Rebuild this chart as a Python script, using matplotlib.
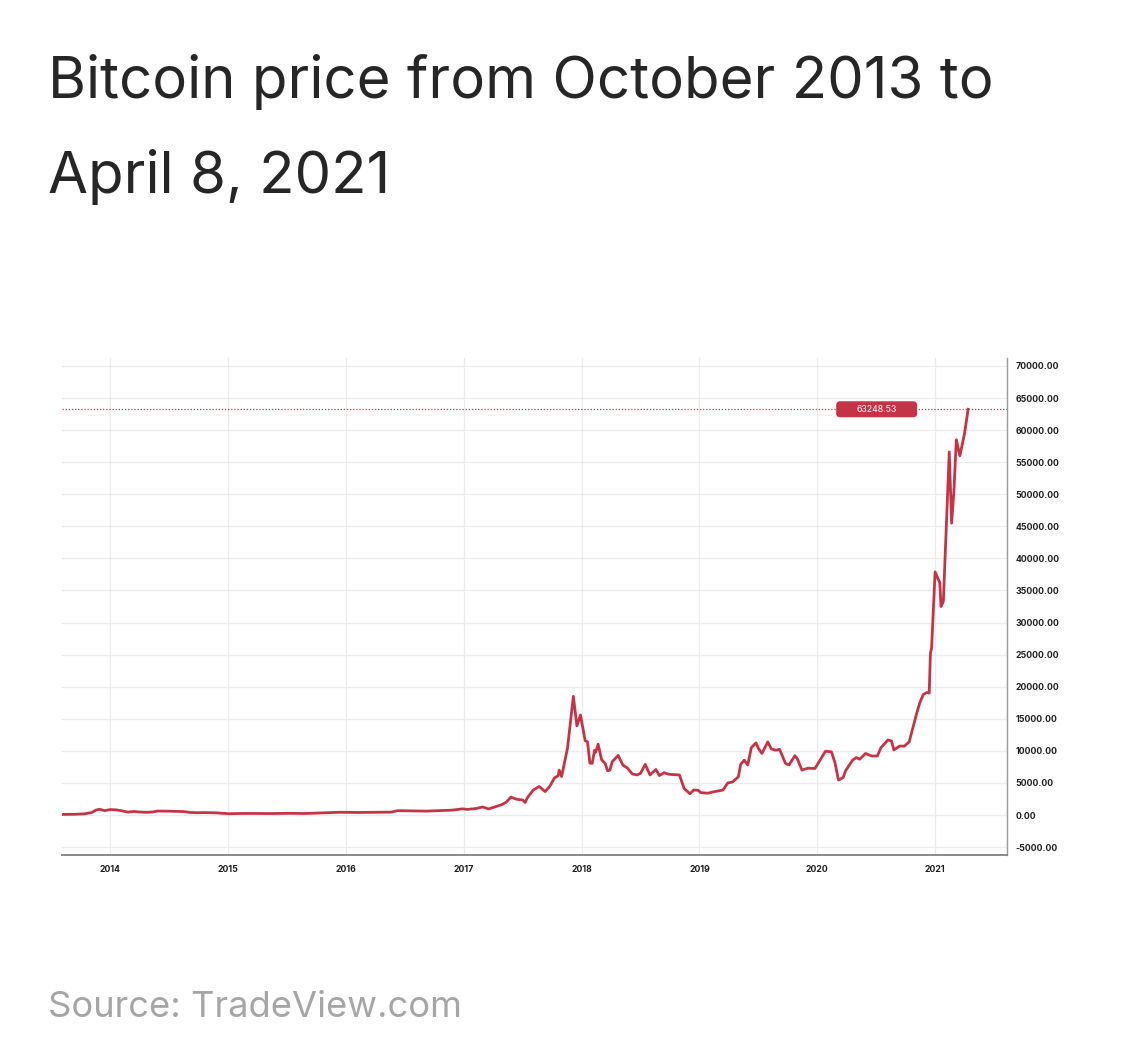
import matplotlib.pyplot as plt
from matplotlib.patches import FancyBboxPatch

# 周线数据 (按年份小数读图估计)
t = [2013.60, 2013.70, 2013.78, 2013.84, 2013.88, 2013.91, 2013.95, 2014.00, 2014.05, 2014.10,
     2014.15, 2014.20, 2014.25, 2014.31, 2014.36, 2014.40, 2014.50, 2014.62, 2014.68, 2014.74,
     2014.80, 2014.90, 2015.01, 2015.10, 2015.20, 2015.35, 2015.53, 2015.65, 2015.83, 2015.95,
     2016.10, 2016.25, 2016.38, 2016.44, 2016.55, 2016.68, 2016.80, 2016.90, 2016.99, 2017.03,
     2017.10, 2017.16, 2017.21, 2017.26, 2017.32, 2017.36, 2017.40, 2017.45, 2017.50, 2017.52,
     2017.54, 2017.59, 2017.64, 2017.69, 2017.73, 2017.77, 2017.80, 2017.81, 2017.83, 2017.88,
     2017.93, 2017.96, 2017.99, 2018.03, 2018.05, 2018.07, 2018.09, 2018.11, 2018.12, 2018.14,
     2018.17, 2018.20, 2018.22, 2018.24, 2018.26, 2018.31, 2018.35, 2018.39, 2018.43, 2018.47,
     2018.50, 2018.54, 2018.58, 2018.63, 2018.66, 2018.70, 2018.74, 2018.83, 2018.87, 2018.92,
     2018.95, 2018.99, 2019.01, 2019.07, 2019.11, 2019.20, 2019.24, 2019.28, 2019.33, 2019.35,
     2019.38, 2019.41, 2019.44, 2019.48, 2019.50, 2019.53, 2019.58, 2019.61, 2019.65, 2019.68,
     2019.73, 2019.76, 2019.81, 2019.83, 2019.87, 2019.92, 2019.98, 2020.02, 2020.07, 2020.12,
     2020.15, 2020.18, 2020.22, 2020.24, 2020.30, 2020.33, 2020.36, 2020.41, 2020.46, 2020.51,
     2020.54, 2020.60, 2020.63, 2020.65, 2020.70, 2020.74, 2020.78, 2020.81, 2020.84, 2020.87,
     2020.90, 2020.93, 2020.95, 2020.96, 2020.97, 2021.00, 2021.04, 2021.05, 2021.07, 2021.12,
     2021.14, 2021.16, 2021.18, 2021.21, 2021.25, 2021.28]
price = [100, 120, 180, 380, 780, 900, 680, 850, 800, 650,
         450, 560, 470, 420, 480, 620, 600, 540, 400, 360,
         380, 340, 200, 240, 250, 230, 270, 240, 360, 430,
         400, 420, 450, 680, 650, 610, 700, 760, 960, 880,
         1000, 1250, 950, 1250, 1600, 2000, 2800, 2450, 2350, 1950,
         2700, 3900, 4450, 3650, 4500, 5800, 6100, 7000, 6000, 10400,
         18500, 13900, 15600, 11600, 11400, 8100, 8050, 10100, 9800, 11050,
         8600, 8050, 6900, 7000, 8300, 9300, 7800, 7300, 6400, 6250,
         6500, 7900, 6250, 7100, 6150, 6600, 6350, 6250, 4150, 3300,
         3900, 3850, 3500, 3400, 3580, 3900, 5000, 5150, 5950, 7900,
         8550, 7800, 10500, 11250, 10400, 9600, 11400, 10300, 10100, 10250,
         8050, 7800, 9250, 8800, 7000, 7300, 7250, 8450, 9950, 9850,
         8150, 5450, 5850, 6900, 8550, 8950, 8700, 9600, 9200, 9200,
         10500, 11700, 11550, 10150, 10750, 10750, 11400, 13500, 15600, 17500,
         18800, 19100, 19000, 25200, 26000, 37900, 36200, 32500, 33300, 56600,
         45500, 50600, 58500, 56000, 59500, 63248.53]
last_price = 63248.53
year_ticks = [2014, 2015, 2016, 2017, 2018, 2019, 2020, 2021]
y_ticks = list(range(-5000, 70001, 5000))

red = "#c53346"
font = ["Inter", "DejaVu Sans"]

fig = plt.figure(figsize=(11.25, 10.59), dpi=100)
fig.patch.set_facecolor("white")

ax = fig.add_axes([0.0551, 0.1926, 0.84, 0.4694])
ax.plot(t, price, color=red, linewidth=2.0, solid_joinstyle="round", zorder=3)
ax.axhline(last_price, color=red, linewidth=0.9, linestyle=(0, (1, 1.5)), zorder=2)

ax.set_xlim(2013.59, 2021.61)
ax.set_ylim(-6236, 71250)
ax.set_xticks(year_ticks)
ax.set_xticklabels([str(y) for y in year_ticks])
ax.set_yticks(y_ticks)
ax.set_yticklabels([f"{v:.2f}" for v in y_ticks])
ax.yaxis.tick_right()
ax.grid(True, color="#ebebeb", linewidth=0.9, zorder=0)
ax.set_axisbelow(True)
for s in ["top", "left"]:
    ax.spines[s].set_visible(False)
ax.spines["bottom"].set_color("#8a8a8a")
ax.spines["bottom"].set_linewidth(1.4)
ax.spines["right"].set_color("#9a9a9a")
ax.spines["right"].set_linewidth(1.0)
ax.tick_params(axis="both", length=0, labelsize=6.3, labelcolor="#1e1e1e")
ax.tick_params(axis="y", pad=6)
ax.tick_params(axis="x", pad=7)
for lab in ax.get_xticklabels() + ax.get_yticklabels():
    lab.set_fontweight("bold")
    lab.set_family(font)

# 最新价格标签 (圆角框)
px_x = (2021.61 - 2013.59) / 945.0
px_y = (71250 + 6236) / 497.0
box_cx = 2020.504
box_w = 81 * px_x
box_h = 16 * px_y
box = FancyBboxPatch((box_cx - box_w / 2, last_price - box_h / 2), box_w, box_h,
                     boxstyle=f"round,pad=0,rounding_size={4 * px_x}",
                     mutation_aspect=px_y / px_x,
                     facecolor=red, edgecolor="none", zorder=4)
ax.add_patch(box)
ax.text(box_cx, last_price, f"{last_price:.2f}", color="white", fontsize=6.3,
        ha="center", va="center", zorder=5, family=font)

fig.text(0.0427, 0.907, "Bitcoin price from October 2013 to", fontsize=41.8,
         color="#262626", family=font, va="baseline")
fig.text(0.0427, 0.818, "April 8, 2021", fontsize=41.8,
         color="#262626", family=font, va="baseline")
fig.text(0.0427, 0.0397, "Source: TradeView.com", fontsize=26.2,
         color="#a6a6a6", family=font, va="baseline")

fig.savefig("out.png", dpi=100)
